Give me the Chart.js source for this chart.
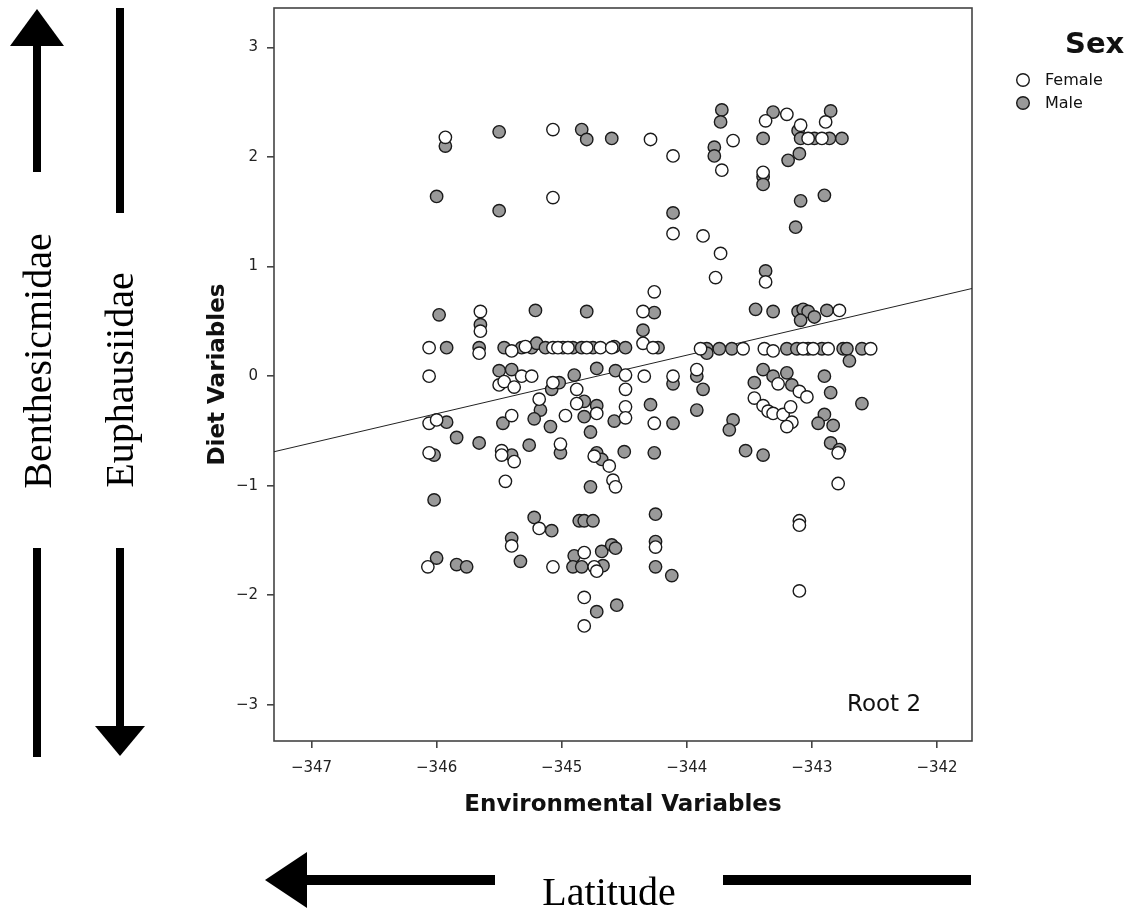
<!DOCTYPE html>
<html><head><meta charset="utf-8">
<script src="https://cdn.jsdelivr.net/npm/chart.js@4/dist/chart.umd.min.js"></script>
<style>html,body{margin:0;padding:0;background:#fff;}#wrap{width:1134px;height:913px;position:relative;}</style>
</head><body><div id="wrap"><canvas id="c" width="1134" height="913"></canvas></div>
<script>
const femaleX = [-345.93,-345.07,-344.29,-344.11,-345.07,-344.11,-344.26,-345.65,-345.65,-344.35,
-343.37,-343.20,-342.89,-343.63,-343.09,-343.03,-342.92,-343.72,-343.39,-343.87,
-343.73,-343.77,-343.37,-342.78,-344.35,-346.06,-345.66,-345.40,-345.07,-344.99,
-344.69,-344.60,-344.27,-345.29,-345.03,-344.95,-344.80,-346.06,-345.50,-345.46,
-345.38,-345.32,-345.24,-345.07,-344.88,-344.49,-344.49,-344.34,-344.11,-345.18,
-345.40,-344.97,-344.88,-344.72,-344.49,-344.49,-344.26,-346.06,-346.00,-346.06,
-345.48,-345.48,-345.38,-345.01,-344.74,-344.62,-345.45,-344.59,-344.57,-343.89,
-343.55,-343.38,-343.31,-343.07,-342.99,-342.87,-342.53,-343.92,-343.27,-343.10,
-343.04,-343.46,-343.39,-343.35,-343.31,-343.23,-343.17,-343.16,-343.20,-342.79,
-342.79,-345.18,-345.40,-345.07,-344.82,-344.74,-344.72,-344.25,-346.07,-344.82,
-344.82,-343.10,-343.10,-343.10];
const femaleY = [2.18,2.25,2.16,2.01,1.63,1.30,0.77,0.59,0.41,0.59,
2.33,2.39,2.32,2.15,2.29,2.17,2.17,1.88,1.86,1.28,
1.12,0.90,0.86,0.60,0.30,0.26,0.21,0.23,0.26,0.26,
0.26,0.26,0.26,0.27,0.26,0.26,0.26,0.00,-0.08,-0.05,
-0.10,0.00,0.00,-0.06,-0.12,0.01,-0.12,0.00,0.00,-0.21,
-0.36,-0.36,-0.25,-0.34,-0.28,-0.38,-0.43,-0.43,-0.40,-0.70,
-0.68,-0.72,-0.78,-0.62,-0.73,-0.82,-0.96,-0.95,-1.01,0.25,
0.25,0.25,0.23,0.25,0.25,0.25,0.25,0.06,-0.07,-0.14,
-0.19,-0.20,-0.27,-0.32,-0.34,-0.35,-0.28,-0.42,-0.46,-0.70,
-0.98,-1.39,-1.55,-1.74,-1.61,-1.74,-1.78,-1.56,-1.74,-2.02,
-2.28,-1.32,-1.36,-1.96];
const maleX = [-345.93,-345.50,-344.84,-344.80,-344.60,-346.00,-345.50,-344.11,-345.98,-345.65,
-345.21,-344.80,-344.26,-344.35,-343.72,-343.73,-343.31,-342.85,-343.39,-343.11,
-343.09,-342.98,-342.86,-342.76,-343.78,-343.78,-343.10,-343.19,-343.39,-343.39,
-343.09,-342.90,-343.13,-343.37,-343.45,-343.31,-343.11,-343.07,-343.03,-343.09,
-342.98,-342.88,-345.92,-345.66,-345.46,-345.32,-345.24,-345.20,-345.13,-344.91,
-344.84,-344.75,-344.58,-344.49,-344.23,-345.50,-345.40,-345.08,-345.02,-344.90,
-344.72,-344.57,-344.11,-345.17,-345.22,-345.47,-344.82,-344.72,-344.82,-345.09,
-344.77,-344.58,-344.29,-344.11,-345.92,-345.84,-345.66,-346.02,-345.40,-345.26,
-345.01,-344.72,-344.68,-344.50,-344.26,-344.77,-346.02,-343.84,-343.84,-343.74,
-343.64,-343.20,-343.12,-343.03,-342.92,-342.75,-342.72,-342.70,-342.60,-343.92,
-343.87,-343.92,-343.39,-343.31,-343.20,-343.16,-343.46,-342.90,-342.85,-342.60,
-342.90,-342.95,-342.83,-343.63,-343.66,-342.85,-342.78,-343.53,-343.39,-345.22,
-345.08,-344.86,-344.82,-344.75,-344.25,-345.40,-345.33,-344.90,-344.68,-344.91,
-344.84,-344.67,-344.60,-344.57,-344.25,-344.25,-344.12,-346.00,-345.84,-345.76,
-344.72,-344.56];
const maleY = [2.10,2.23,2.25,2.16,2.17,1.64,1.51,1.49,0.56,0.47,
0.60,0.59,0.58,0.42,2.43,2.32,2.41,2.42,2.17,2.24,
2.17,2.17,2.17,2.17,2.09,2.01,2.03,1.97,1.82,1.75,
1.60,1.65,1.36,0.96,0.61,0.59,0.59,0.61,0.59,0.51,
0.54,0.60,0.26,0.26,0.26,0.26,0.26,0.30,0.26,0.26,
0.26,0.26,0.27,0.26,0.26,0.05,0.06,-0.12,-0.06,0.01,
0.07,0.05,-0.07,-0.31,-0.39,-0.43,-0.23,-0.27,-0.37,-0.46,
-0.51,-0.41,-0.26,-0.43,-0.42,-0.56,-0.61,-0.72,-0.72,-0.63,
-0.70,-0.70,-0.76,-0.69,-0.70,-1.01,-1.13,0.25,0.21,0.25,
0.25,0.25,0.25,0.25,0.25,0.25,0.25,0.14,0.25,0.00,
-0.12,-0.31,0.06,0.00,0.03,-0.08,-0.06,0.00,-0.15,-0.25,
-0.35,-0.43,-0.45,-0.40,-0.49,-0.61,-0.67,-0.68,-0.72,-1.29,
-1.41,-1.32,-1.32,-1.32,-1.26,-1.48,-1.69,-1.64,-1.60,-1.74,
-1.74,-1.73,-1.54,-1.57,-1.51,-1.74,-1.82,-1.66,-1.72,-1.74,
-2.15,-2.09];
const fitLineX = [-347.3, -341.72];
const fitLineY = [-0.69, 0.80];
const xTicks = [-347, -346, -345, -344, -343, -342];
const yTicks = [-3, -2, -1, 0, 1, 2, 3];
const xRange = [-347.3, -341.72];
const yRange = [-3.33, 3.36];
const legendTitle = 'Sex';
const seriesNames = ['Female', 'Male'];

const FONT = '"DejaVu Sans", sans-serif';
const SERIF = '"Liberation Serif", "Times New Roman", serif';
const fmt = v => (v < 0 ? '\u2212' + Math.abs(v) : String(v));
const pts = (xs, ys) => xs.map((x, i) => ({x, y: ys[i]}));

const decor = {
  id: 'decor',
  beforeDatasetsDraw(chart) {
    const {ctx, chartArea: a} = chart;
    ctx.save();
    ctx.strokeStyle = '#444'; ctx.lineWidth = 1.6;
    ctx.strokeRect(a.left, a.top, a.right - a.left, a.bottom - a.top);
    ctx.restore();
  },
  afterDraw(chart) {
    const {ctx} = chart;
    ctx.save();
    // Root 2 label
    ctx.fillStyle = '#111'; ctx.font = '23px ' + FONT;
    ctx.textAlign = 'left'; ctx.textBaseline = 'alphabetic';
    ctx.fillText('Root 2', 847, 711);
    // legend
    ctx.font = 'bold 29px ' + FONT; ctx.textAlign = 'left';
    ctx.fillText(legendTitle, 1065, 53);
    const fills = ['#ffffff', '#999999'];
    ctx.font = '16px ' + FONT; ctx.textBaseline = 'middle';
    seriesNames.forEach((n, i) => {
      const cy = 80 + i * 23;
      ctx.beginPath(); ctx.arc(1023, cy, 6.3, 0, Math.PI * 2);
      ctx.fillStyle = fills[i]; ctx.fill();
      ctx.lineWidth = 1.4; ctx.strokeStyle = '#1a1a1a'; ctx.stroke();
      ctx.fillStyle = '#111'; ctx.fillText(n, 1045, cy + 1);
    });
    // arrows
    ctx.fillStyle = '#000';
    ctx.fillRect(33, 44, 8, 128);
    ctx.beginPath(); ctx.moveTo(37, 9); ctx.lineTo(64, 46); ctx.lineTo(10, 46); ctx.closePath(); ctx.fill();
    ctx.fillRect(33, 548, 8, 209);
    ctx.fillRect(116, 8, 8, 205);
    ctx.fillRect(116, 548, 8, 180);
    ctx.beginPath(); ctx.moveTo(95, 726); ctx.lineTo(145, 726); ctx.lineTo(120, 756); ctx.closePath(); ctx.fill();
    ctx.fillRect(304, 875, 191, 10);
    ctx.beginPath(); ctx.moveTo(265, 880); ctx.lineTo(307, 852); ctx.lineTo(307, 908); ctx.closePath(); ctx.fill();
    ctx.fillRect(723, 875, 248, 10);
    // serif texts
    ctx.font = '40px ' + SERIF; ctx.textAlign = 'center'; ctx.textBaseline = 'alphabetic';
    ctx.fillText('Latitude', 609, 905);
    ctx.save(); ctx.translate(51, 361); ctx.rotate(-Math.PI / 2);
    ctx.fillText('Benthesicmidae', 0, 0); ctx.restore();
    ctx.save(); ctx.translate(133, 380); ctx.rotate(-Math.PI / 2);
    ctx.fillText('Euphausiidae', 0, 0); ctx.restore();
    ctx.restore();
  }
};

new Chart(document.getElementById('c'), {
  type: 'scatter',
  data: {
    datasets: [
      {label: 'Fit', type: 'line', data: pts(fitLineX, fitLineY), borderColor: '#222', borderWidth: 1,
       pointRadius: 0, fill: false, order: 3},
      {label: seriesNames[1], data: pts(maleX, maleY), backgroundColor: '#999999', borderColor: '#1a1a1a',
       borderWidth: 1.4, pointRadius: 6.2, order: 2},
      {label: seriesNames[0], data: pts(femaleX, femaleY), backgroundColor: '#ffffff', borderColor: '#1a1a1a',
       borderWidth: 1.4, pointRadius: 6.2, order: 1}
    ]
  },
  options: {
    responsive: false, animation: false, devicePixelRatio: 1,
    layout: {padding: {left: 0, right: 162, top: 8, bottom: 0}},
    plugins: {legend: {display: false}, tooltip: {enabled: false}},
    scales: {
      x: {
        type: 'linear', min: xRange[0], max: xRange[1],
        afterBuildTicks(s) { s.ticks = xTicks.map(v => ({value: v})); },
        afterFit(s) { s.height = 172; s.paddingLeft = 0; s.paddingRight = 0; },
        ticks: {font: {family: FONT, size: 15}, color: '#222', padding: 11, maxRotation: 0, autoSkip: false,
                callback: v => fmt(v)},
        grid: {drawOnChartArea: false, drawTicks: true, tickLength: 7, color: '#444', lineWidth: 1.6},
        border: {display: false},
        title: {display: true, text: 'Environmental Variables', color: '#111',
                font: {family: FONT, size: 23, weight: 'bold'}, padding: {top: 0, bottom: 94}}
      },
      y: {
        type: 'linear', min: yRange[0], max: yRange[1],
        afterBuildTicks(s) { s.ticks = yTicks.map(v => ({value: v})); },
        afterFit(s) { s.width = 274; s.paddingTop = 0; s.paddingBottom = 0; },
        ticks: {font: {family: FONT, size: 15}, color: '#222', padding: 9, autoSkip: false,
                callback: v => fmt(v)},
        grid: {drawOnChartArea: false, drawTicks: true, tickLength: 7, color: '#444', lineWidth: 1.6},
        border: {display: false},
        title: {display: true, text: 'Diet Variables', color: '#111',
                font: {family: FONT, size: 23, weight: 'bold'}, padding: {top: 204, bottom: 0}}
      }
    }
  },
  plugins: [decor]
});
</script></body></html>
